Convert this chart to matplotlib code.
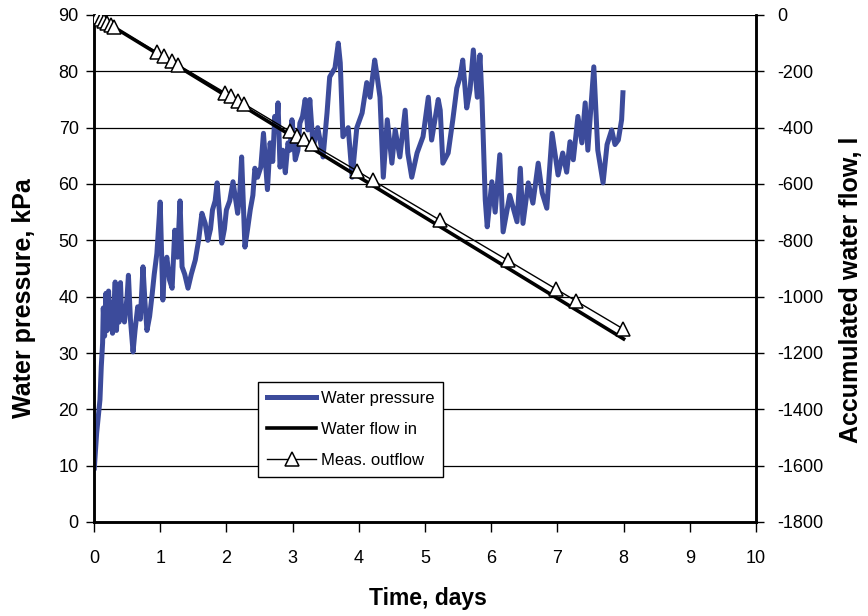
import matplotlib
matplotlib.use("Agg")
import matplotlib.pyplot as plt
from matplotlib.lines import Line2D

plt.rcParams['font.family'] = ['Liberation Sans', 'DejaVu Sans']
plt.rcParams['axes.unicode_minus'] = False

# ---- data (rows of 10, aligned) ----
p_time = [0.005, 0.04, 0.09, 0.11, 0.13, 0.14, 0.16, 0.18, 0.20, 0.22,
          0.24, 0.26, 0.28, 0.30, 0.32, 0.34, 0.36, 0.38, 0.40, 0.42,
          0.44, 0.46, 0.50, 0.52, 0.55, 0.59, 0.62, 0.66, 0.70, 0.74,
          0.77, 0.80, 0.84, 0.88, 0.91, 0.95, 1.00, 1.04, 1.06, 1.10,
          1.14, 1.18, 1.22, 1.26, 1.30, 1.33, 1.37, 1.42, 1.47, 1.53,
          1.58, 1.63, 1.68, 1.72, 1.76, 1.79, 1.83, 1.86, 1.93, 1.97,
          2.00, 2.05, 2.10, 2.13, 2.17, 2.20, 2.23, 2.28, 2.32, 2.36,
          2.40, 2.43, 2.47, 2.52, 2.56, 2.59, 2.62, 2.66, 2.70, 2.73,
          2.76, 2.78, 2.81, 2.85, 2.89, 2.93, 2.96, 2.99, 3.01, 3.04,
          3.08, 3.11, 3.15, 3.19, 3.23, 3.26, 3.31, 3.38, 3.46, 3.52,
          3.56, 3.64, 3.69, 3.72, 3.76, 3.84, 3.90, 3.97, 4.05, 4.12,
          4.17, 4.24, 4.27, 4.32, 4.37, 4.43, 4.50, 4.55, 4.62, 4.70,
          4.74, 4.80, 4.88, 4.97, 5.05, 5.10, 5.20, 5.23, 5.27, 5.35,
          5.42, 5.48, 5.53, 5.57, 5.63, 5.68, 5.73, 5.79, 5.83, 5.86,
          5.91, 5.94, 6.01, 6.06, 6.13, 6.18, 6.28, 6.39, 6.44, 6.48,
          6.56, 6.63, 6.71, 6.77, 6.84, 6.92, 7.01, 7.08, 7.14, 7.19,
          7.24, 7.31, 7.37, 7.42, 7.46, 7.55, 7.61, 7.69, 7.75, 7.82,
          7.87, 7.92, 7.97, 7.99]
p_value = [9.6, 15.8, 21.7, 27.6, 31.8, 38.0, 33.0, 40.6, 34.0, 41.0,
           35.0, 39.0, 33.5, 38.0, 42.6, 34.0, 40.0, 35.5, 42.5, 36.0,
           37.5, 35.5, 40.0, 43.8, 36.0, 30.2, 34.0, 38.2, 36.0, 45.3,
           39.0, 34.0, 36.5, 40.6, 44.0, 47.7, 56.8, 39.4, 44.0, 47.0,
           43.0, 41.5, 51.8, 47.0, 57.0, 45.3, 44.0, 41.5, 44.0, 46.5,
           50.0, 54.8, 53.0, 50.0, 52.0, 55.4, 57.0, 60.2, 49.5, 52.0,
           55.4, 57.0, 60.4, 58.0, 54.8, 58.0, 64.8, 48.8, 52.0, 55.4,
           58.0, 62.8, 61.2, 63.0, 69.0, 64.0, 59.0, 67.3, 64.0, 72.0,
           70.0, 74.4, 63.0, 66.0, 62.0, 67.3, 66.0, 71.4, 69.0, 64.3,
           66.0, 70.8, 72.0, 75.0, 69.6, 75.0, 66.6, 70.0, 64.8, 72.6,
           79.0, 80.6, 85.0, 81.5, 68.4, 70.0, 61.2, 70.0, 72.6, 78.0,
           75.4, 82.0, 79.7, 75.4, 61.2, 71.4, 63.7, 69.6, 64.8, 73.1,
           65.5, 61.2, 65.5, 68.4, 75.4, 67.8, 75.0, 73.1, 63.7, 65.5,
           71.4, 77.0, 79.0, 82.0, 73.5, 76.7, 83.8, 75.4, 82.9, 75.4,
           57.2, 52.4, 60.4, 55.0, 65.2, 51.5, 58.0, 53.3, 62.8, 53.0,
           60.2, 56.6, 63.7, 58.4, 55.7, 69.0, 61.6, 65.5, 62.1, 67.5,
           64.3, 72.0, 67.3, 74.4, 66.0, 80.8, 66.0, 60.2, 67.0, 69.6,
           67.0, 67.8, 71.4, 76.2]

inflow_time = [0.0, 8.0]
inflow_value = [0.0, -1150.0]

out_time = [0.0, 0.05, 0.1, 0.15, 0.2, 0.25, 0.3, 0.95, 1.05, 1.18, 1.27, 1.98, 2.07,
            2.18, 2.27, 2.96, 3.07, 3.17, 3.29, 3.97, 4.21, 5.23, 6.25, 6.98, 7.28, 7.99]
out_value = [0, -7, -14, -21, -28, -35, -42, -132, -146, -164, -177, -276, -289,
             -304, -316, -413, -428, -442, -459, -553, -587, -729, -871, -973, -1015, -1114]

x_ticks = [0, 1, 2, 3, 4, 5, 6, 7, 8, 9, 10]
left_ticks = [0, 10, 20, 30, 40, 50, 60, 70, 80, 90]
right_ticks = [0, -200, -400, -600, -800, -1000, -1200, -1400, -1600, -1800]

# ---- figure ----
fig = plt.figure(figsize=(8.68, 6.16), dpi=100)
ax = fig.add_axes([94/868, 1-522/616, (756-94)/868, (522-15)/616])
ax2 = ax.twinx()

blue = '#3c4b9b'
ax.plot(p_time, p_value, color=blue, lw=3.6, zorder=2)
ax.set_xlim(0, 10)
ax.set_ylim(0, 90)
ax.set_xticks(x_ticks)
ax.set_yticks(left_ticks)
ax.yaxis.grid(True, color='black', lw=0.9)
ax.set_axisbelow(True)

ax2.plot(inflow_time, inflow_value, color='black', lw=2.6, zorder=3)
ax2.plot(out_time, out_value, color='black', lw=1.0, marker='^', ms=10,
         mfc='white', mec='black', mew=1.1, zorder=4)
ax2.set_ylim(-1800, 0)
ax2.set_yticks(right_ticks)

for a in (ax, ax2):
    for s in a.spines.values():
        s.set_linewidth(1.8)
    a.spines['top'].set_visible(False)

ax.tick_params(axis='x', direction='out', length=7, width=1, pad=13, labelsize=13)
ax.tick_params(axis='y', direction='out', length=6, width=1, pad=5, labelsize=13)
ax2.tick_params(axis='y', direction='out', length=6, width=1, pad=9, labelsize=13)

fig.text(24/868, 1-298/616, 'Water pressure, kPa', rotation=90, ha='center', va='center',
         fontsize=18, fontweight='bold')
fig.text(851/868, 1-290/616, 'Accumulated water flow, l', rotation=90, ha='center',
         va='center', fontsize=18, fontweight='bold')
fig.text(428/868, 1-598/616, 'Time, days', ha='center', va='center', fontsize=16.5,
         fontweight='bold')

handles = [Line2D([], [], color=blue, lw=3.6),
           Line2D([], [], color='black', lw=2.6),
           Line2D([], [], color='black', lw=1.0, marker='^', ms=10, mfc='white',
                  mec='black', mew=1.1)]
labels = ['Water pressure', 'Water flow in', 'Meas. outflow']
leg = ax2.legend(handles, labels, loc='upper left', bbox_to_anchor=(0.248, 0.276),
                 borderaxespad=0, fontsize=12, handlelength=2.9, labelspacing=0.95,
                 handletextpad=0.3, borderpad=0.55, fancybox=False, framealpha=1,
                 edgecolor='black')
leg.get_frame().set_linewidth(1.0)

fig.savefig('out.png', dpi=100)
